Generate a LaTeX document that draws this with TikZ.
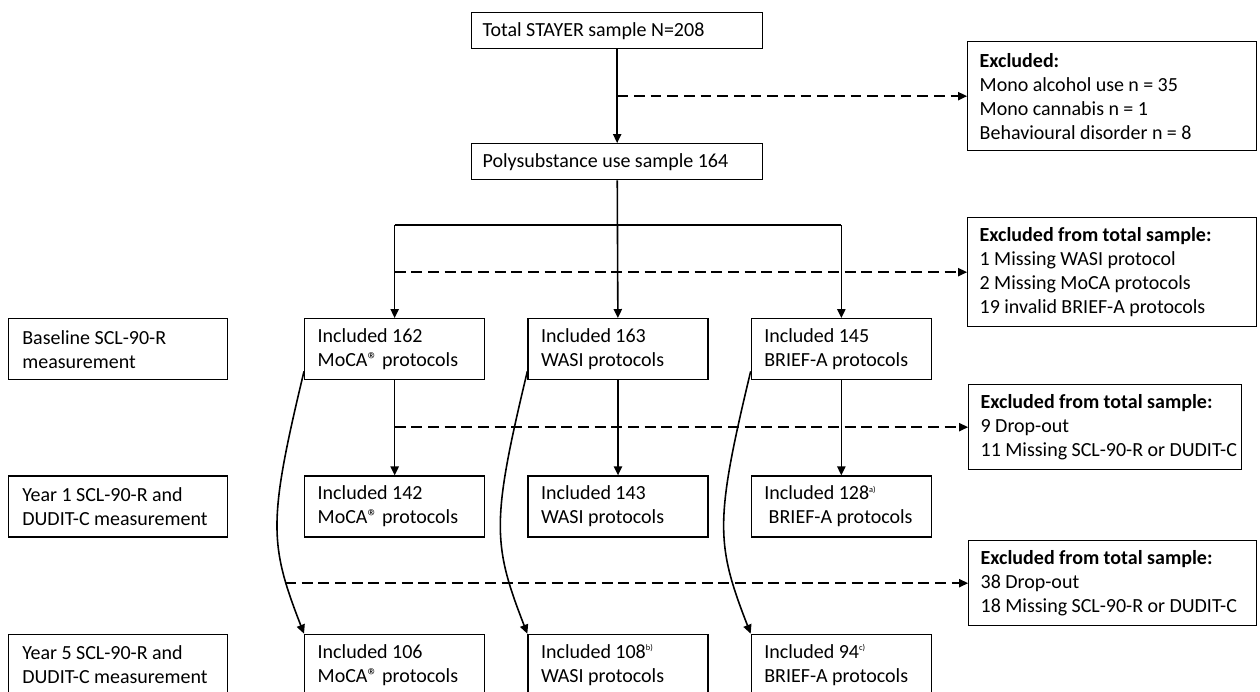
\documentclass[tikz,border=0pt]{standalone}
\usepackage{fontspec}
\setmainfont{Carlito}
\usetikzlibrary{arrows.meta, positioning, calc}

\begin{document}
\begin{tikzpicture}[
  x=0.6pt, y=-0.6pt,
  box/.style={draw, line width=0.8pt, align=left, inner ysep=0pt, inner xsep=7.8pt,
              font=\fontsize{12pt}{14.4pt}\selectfont,
              execute at begin node={\spaceskip=0.22em\relax}},
  mainbox/.style={box, anchor=north west, inner xsep=6.6pt, text width=161.4pt, minimum height=21.6pt},
  colbox/.style={box, text width=92.4pt, minimum height=36.6pt},
  labbox/.style={box, inner xsep=8.4pt, text width=114.6pt, minimum height=36.6pt},
  exbox/.style={box, anchor=north west, inner xsep=7.2pt, text width=159pt},
  arr/.style={-{Triangle[length=5.4pt, width=5pt]}, line width=0.95pt},
  dasharr/.style={arr, dash pattern=on 6.5pt off 3.5pt}
]
\useasboundingbox (0,0) rectangle (1260,691);

% sample selection
\node[mainbox] (total) at (471,12)  {Total STAYER sample N=208};
\node[mainbox] (poly)  at (471,143) {Polysubstance use sample 164};

\node[exbox, minimum height=65.4pt] (ex1) at (967,41)
  {\textbf{Excluded:}\\Mono alcohol use n = 35\\Mono cannabis n = 1\\Behavioural disorder n = 8};
\node[exbox, minimum height=65.4pt] (ex2) at (967,217)
  {\textbf{Excluded from total sample:}\\1 Missing WASI protocol\\2 Missing MoCA protocols\\19 invalid BRIEF-A protocols};
\node[exbox, text width=149.4pt, minimum height=51pt] (ex3) at (968,384)
  {\textbf{Excluded from total sample:}\\9 Drop-out\\\mbox{11 Missing SCL-90-R or DUDIT-C}};
\node[exbox, text width=158.4pt, minimum height=51pt] (ex4) at (968,540)
  {\textbf{Excluded from total sample:}\\38 Drop-out\\\mbox{18 Missing SCL-90-R or DUDIT-C}};

% protocol columns
\node[colbox, anchor=north west] (moca1) at (304,318) {Included 162\\MoCA\textregistered{} protocols};
\node[colbox, right=25.2pt of moca1]  (wasi1)  {Included 163\\WASI protocols};
\node[colbox, right=25.2pt of wasi1]  (brief1) {Included 145\\BRIEF-A protocols};

\node[colbox, below=57pt of moca1]  (moca2)  {Included 142\\MoCA\textregistered{} protocols};
\node[colbox, below=57pt of wasi1]  (wasi2)  {Included 143\\WASI protocols};
\node[colbox, below=57pt of brief1] (brief2) {Included 128\textsuperscript{\tiny a)}\\\ BRIEF-A protocols};

\node[colbox, below=57.6pt of moca2]  (moca3)  {Included 106\\MoCA\textregistered{} protocols};
\node[colbox, below=57.6pt of wasi2]  (wasi3)  {Included 108\textsuperscript{\tiny b)}\\WASI protocols};
\node[colbox, below=57.6pt of brief2] (brief3) {Included 94\textsuperscript{\tiny c)}\\BRIEF-A protocols};

% time points
\node[labbox, left=45.6pt of moca1] (base)  {Baseline SCL-90-R\\measurement};
\node[labbox, left=45.6pt of moca2] (year1) {Year 1 SCL-90-R and\\DUDIT-C measurement};
\node[labbox, left=45.6pt of moca3] (year5) {Year 5 SCL-90-R and\\DUDIT-C measurement};

% connectors
\draw[arr] (total) -- (poly);
\coordinate (cut1) at ($(total.south)!0.5!(poly.north)$);
\draw[dasharr] (cut1) -- (cut1 -| ex1.west);

\coordinate (split) at (poly.south |- 0,225);
\draw[arr] (poly) -- (wasi1);
\draw[line width=0.95pt] (split -| moca1.north) -- (split -| brief1.north);
\draw[arr] (split -| moca1.north) -- (moca1);
\draw[arr] (split -| brief1.north) -- (brief1);
\draw[dasharr] (ex2.west -| moca1.north) -- (ex2.west);

\draw[arr] (moca1) -- (moca2);
\draw[arr] (wasi1) -- (wasi2);
\draw[arr] (brief1) -- (brief2);
\draw[dasharr] (ex3.west -| moca1.north) -- (ex3.west);

\foreach \c in {moca,wasi,brief}
  \draw[arr] ([yshift=5.4pt]\c1.south west) .. controls +(-36,150) and +(-35,-90) .. (\c3.north west);
\coordinate (cut4) at (285,0 |- ex4.west);
\draw[dasharr] (cut4) -- (ex4.west);
\end{tikzpicture}
\end{document}
